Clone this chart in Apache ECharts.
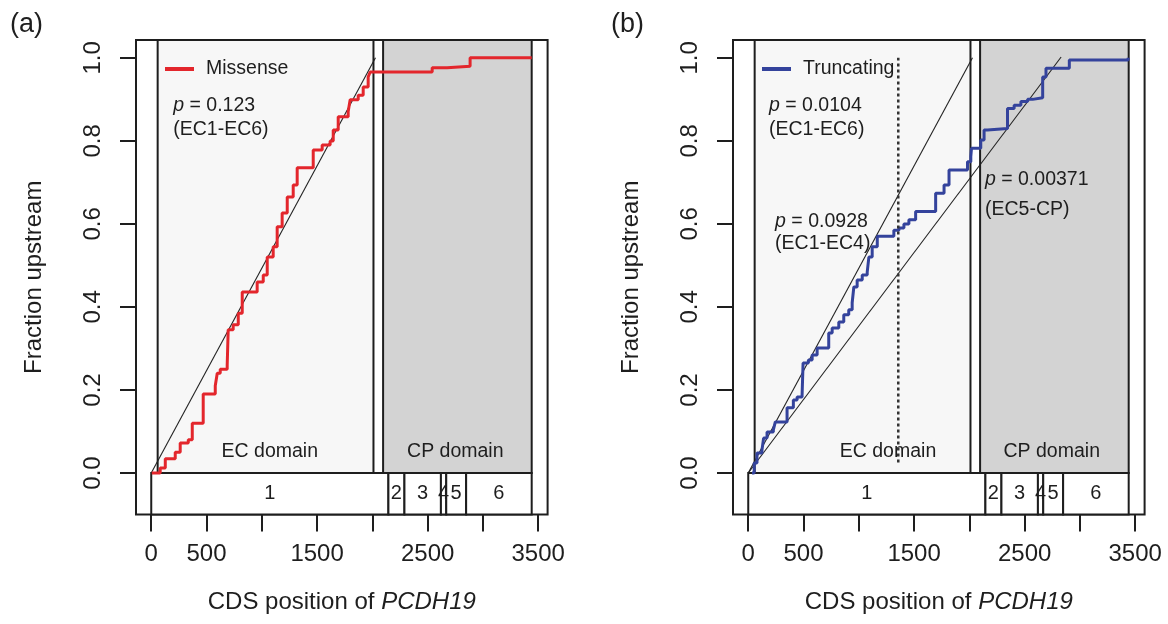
<!DOCTYPE html>
<html>
<head>
<meta charset="utf-8">
<script src="https://cdn.jsdelivr.net/npm/echarts@6/dist/echarts.min.js"></script>
<style>
  html, body { margin: 0; padding: 0; background: #ffffff; }
  #chart { width: 1168px; height: 624px; }
</style>
</head>
<body>
<div id="chart"></div>
<script>
// ---------------- DATA ----------------
const xTicks = [0, 500, 1000, 1500, 2000, 2500, 3000, 3500];
const xTickLabels = [0, 500, 1500, 2500, 3500];
const yTicks = [0, 0.2, 0.4, 0.6, 0.8, 1.0];

const domainNames = ['EC domain', 'CP domain'];
const domainStarts = [58, 2097];
const domainEnds = [2010, 3441];

const exonNames = ['1', '2', '3', '4', '5', '6'];
const exonStarts = [0, 2145, 2290, 2620, 2668, 2848];
const exonEnds = [2145, 2290, 2620, 2668, 2848, 3441];

// Missense cumulative fraction (step function)
const missenseX = [5, 81, 127, 217, 262, 335, 371, 470, 579, 597, 624, 687, 696, 741, 787, 823, 958, 1013, 1049, 1103, 1139, 1184, 1230, 1284, 1320, 1465, 1546, 1618, 1646, 1691, 1781, 1799, 1872, 1917, 1962, 1980, 2541, 2676, 2884, 3441];
const missenseY = [0, 0.012, 0.034, 0.05, 0.072, 0.08, 0.12, 0.19, 0.21, 0.24, 0.25, 0.26, 0.345, 0.357, 0.385, 0.436, 0.46, 0.477, 0.52, 0.545, 0.593, 0.626, 0.665, 0.694, 0.735, 0.778, 0.79, 0.80, 0.826, 0.858, 0.87, 0.899, 0.91, 0.93, 0.954, 0.966, 0.976, 0.98, 1.0, 1.0];

// Truncating cumulative fraction (step function)
const truncX = [34, 54, 79, 124, 139, 170, 227, 245, 351, 408, 442, 487, 496, 544, 578, 623, 728, 759, 819, 864, 909, 940, 955, 985, 1031, 1076, 1091, 1121, 1167, 1317, 1363, 1408, 1453, 1514, 1695, 1771, 1816, 1983, 2013, 2019, 2103, 2133, 2164, 2345, 2405, 2466, 2527, 2572, 2663, 2693, 2904, 3436];
const truncY = [0, 0.024, 0.048, 0.055, 0.084, 0.099, 0.104, 0.123, 0.157, 0.176, 0.183, 0.188, 0.265, 0.272, 0.284, 0.301, 0.337, 0.349, 0.364, 0.381, 0.393, 0.41, 0.448, 0.465, 0.477, 0.484, 0.52, 0.545, 0.57, 0.585, 0.59, 0.60, 0.61, 0.63, 0.674, 0.694, 0.73, 0.75, 0.762, 0.782, 0.802, 0.826, 0.83, 0.878, 0.886, 0.895, 0.9, 0.904, 0.954, 0.975, 0.995, 1.0];

// Uniform expectation lines
const expEC16X = [0, 2028];
const expEC16Y = [0, 1];
const expEC5CPX = [0, 2830];
const expEC5CPY = [0, 1.002];
const ec4EndX = [1357, 1357];
const ec4EndY = [0.025, 1.0];

// p-value annotations
const pValuesA = ['0.123'];
const pCompA = ['EC1-EC6'];
const pValuesB = ['0.0104', '0.0928', '0.00371'];
const pCompB = ['EC1-EC6', 'EC1-EC4', 'EC5-CP'];

// ---------------- LAYOUT / STYLE ----------------
const X_MIN = -137.88, X_MAX = 3584.88;
const Y_MIN = -0.1, Y_MAX = 1.043;
const FONT = "'Liberation Sans', Arial, Helvetica, sans-serif";
const INK = '#1e1e1e';
const RED = '#e3262c';
const BLUE = '#34439c';
const BORDER_W = 2;
const domainFills = ['#f7f7f7', '#d3d3d3'];
// annotation anchor positions [x, yLine1, yLine2] in data coordinates
const pPosA = [[199, 0.884, 0.828]];
const pPosB = [[188, 0.884, 0.828], [243, 0.6055, 0.553], [2141, 0.706, 0.634]];
const domainLabelXA = [1072, 2750];
const domainLabelXB = [1264, 2745];
const domainLabelY = 0.051;
const exonLabelY = -0.05;

const grids = [
  { left: 136, top: 40, width: 411.6, height: 474.5 },
  { left: 733, top: 40, width: 411.6, height: 474.5 }
];

function pairs(xs, ys) { return xs.map((x, i) => [x, ys[i]]); }

function makeXAxis(gi) {
  return {
    type: 'value', gridIndex: gi, min: X_MIN, max: X_MAX,
    axisLine: { show: false, onZero: false },
    splitLine: { show: false },
    axisTick: { show: true, length: 17, lineStyle: { color: INK, width: BORDER_W }, customValues: xTicks },
    axisLabel: { customValues: xTickLabels, fontSize: 24, color: INK, fontFamily: FONT, margin: 28, hideOverlap: false,
      formatter: v => String(Math.round(v)) },
    name: '{n|CDS position of }{i|PCDH19}',
    nameLocation: 'middle', nameGap: 76,
    nameTextStyle: {
      rich: {
        n: { fontSize: 24, fontFamily: FONT, color: INK },
        i: { fontSize: 24, fontFamily: FONT, color: INK, fontStyle: 'italic' }
      }
    }
  };
}
function makeYAxis(gi) {
  return {
    type: 'value', gridIndex: gi, min: Y_MIN, max: Y_MAX,
    axisLine: { show: false, onZero: false },
    splitLine: { show: false },
    axisTick: { show: true, length: 16, lineStyle: { color: INK, width: BORDER_W }, customValues: yTicks },
    axisLabel: { customValues: yTicks, rotate: 90, fontSize: 24, color: INK, fontFamily: FONT, margin: 31,
      formatter: v => Number(v).toFixed(1) },
    name: 'Fraction upstream', nameLocation: 'middle', nameGap: 90,
    nameTextStyle: { fontSize: 24, fontFamily: FONT, color: INK }
  };
}

function rectSeries(gi, starts, ends, y0, y1, fills) {
  return {
    type: 'custom', xAxisIndex: gi, yAxisIndex: gi, silent: true, z: 1, clip: false,
    data: starts.map((s, i) => [s, y1, ends[i], y0]),
    renderItem: (params, api) => {
      const a = api.coord([api.value(0), api.value(1)]);
      const b = api.coord([api.value(2), api.value(3)]);
      return {
        type: 'rect',
        shape: { x: a[0], y: a[1], width: b[0] - a[0], height: b[1] - a[1] },
        style: { fill: fills[params.dataIndex % fills.length], stroke: INK, lineWidth: BORDER_W }
      };
    }
  };
}

function textSeries(gi, xs, ys, texts, align, size, z) {
  return {
    type: 'custom', xAxisIndex: gi, yAxisIndex: gi, silent: true, z: z || 4, clip: false,
    data: xs.map((x, i) => [x, ys[i]]),
    renderItem: (params, api) => {
      const p = api.coord([api.value(0), api.value(1)]);
      return {
        type: 'text', x: p[0], y: p[1],
        style: {
          text: texts[params.dataIndex],
          align: align, verticalAlign: 'middle',
          fill: INK, fontSize: size, fontFamily: FONT,
          rich: {
            i: { fontStyle: 'italic', fontSize: size, fontFamily: FONT, fill: INK },
            n: { fontSize: size, fontFamily: FONT, fill: INK }
          }
        }
      };
    }
  };
}

function lineSeries(gi, name, data, color, width, z, type, step) {
  return {
    type: 'line', name: name, xAxisIndex: gi, yAxisIndex: gi,
    data: data, step: step || false, symbol: 'none', showSymbol: false,
    color: color,
    lineStyle: { color: color, width: width, type: type || 'solid' },
    z: z, silent: true
  };
}

function pTexts(pvals, comps, pos) {
  const xs = [], ys = [], ts = [];
  pvals.forEach((p, i) => {
    xs.push(pos[i][0]); ys.push(pos[i][1]); ts.push('{i|p}{n| = ' + p + '}');
    xs.push(pos[i][0]); ys.push(pos[i][2]); ts.push('{n|(' + comps[i] + ')}');
  });
  return { xs, ys, ts };
}

const exonMid = exonStarts.map((s, i) => (s + exonEnds[i]) / 2);
const exonY = exonNames.map(() => exonLabelY);
const domY = domainNames.map(() => domainLabelY);
const pA = pTexts(pValuesA, pCompA, pPosA);
const pB = pTexts(pValuesB, pCompB, pPosB);

const series = [];
[0, 1].forEach(gi => {
  series.push(rectSeries(gi, domainStarts, domainEnds, 0, Y_MAX, domainFills));
  series.push(rectSeries(gi, exonStarts, exonEnds, Y_MIN, 0, ['#ffffff']));
  series.push(textSeries(gi, exonMid, exonY, exonNames, 'center', 20, 3));
  series.push(textSeries(gi, gi === 0 ? domainLabelXA : domainLabelXB, domY, domainNames, 'center', 19.5, 3));
  series.push(lineSeries(gi, 'exp1', pairs(expEC16X, expEC16Y), '#222222', 1.1, 4));
});
series.push(lineSeries(1, 'exp2', pairs(expEC5CPX, expEC5CPY), '#222222', 1.1, 4));
series.push(lineSeries(1, 'ec4', pairs(ec4EndX, ec4EndY), '#333333', 2.5, 6, [3, 3]));
series.push(lineSeries(0, 'Missense', pairs(missenseX, missenseY), RED, 3, 5, 'solid', 'end'));
series.push(lineSeries(1, 'Truncating', pairs(truncX, truncY), BLUE, 3, 5, 'solid', 'end'));
series.push(textSeries(0, pA.xs, pA.ys, pA.ts, 'left', 19.5, 6));
series.push(textSeries(1, pB.xs, pB.ys, pB.ts, 'left', 19.5, 6));

const legendCommon = {
  orient: 'vertical', top: 59, icon: 'rect', itemWidth: 29, itemHeight: 4,
  selectedMode: false, padding: 0,
  textStyle: { fontSize: 19.5, fontFamily: FONT, color: INK, padding: [0, 0, 0, 7] }
};

const option = {
  animation: false,
  backgroundColor: '#ffffff',
  grid: grids.map(g => Object.assign({ show: true, borderColor: INK, borderWidth: BORDER_W, backgroundColor: 'transparent', containLabel: false }, g)),
  xAxis: [makeXAxis(0), makeXAxis(1)],
  yAxis: [makeYAxis(0), makeYAxis(1)],
  legend: [
    Object.assign({ left: 165, data: ['Missense'] }, legendCommon),
    Object.assign({ left: 762, data: ['Truncating'] }, legendCommon)
  ],
  graphic: [
    { type: 'text', left: 10, top: 11, style: { text: '(a)', fontSize: 27, fontFamily: FONT, fill: INK } },
    { type: 'text', left: 611, top: 11, style: { text: '(b)', fontSize: 27, fontFamily: FONT, fill: INK } }
  ],
  series: series
};

const chart = echarts.init(document.getElementById('chart'), null, { renderer: 'canvas' });
chart.setOption(option);
</script>
</body>
</html>
